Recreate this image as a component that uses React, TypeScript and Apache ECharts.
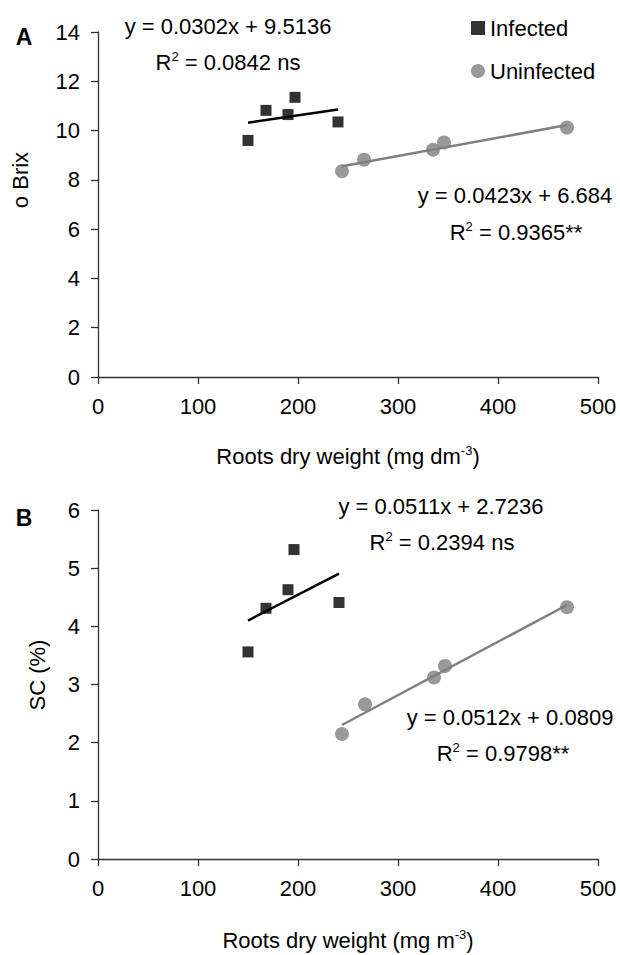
import React, { useEffect, useRef } from "react";
import * as echarts from "echarts";

// ---- Data ----
const infectedRootsA = [150, 168, 190, 197, 240];
const infectedBrix = [9.6, 10.82, 10.65, 11.35, 10.35];
const uninfectedRootsA = [244, 266, 335, 346, 469];
const uninfectedBrix = [8.35, 8.82, 9.22, 9.52, 10.12];

const infectedRootsB = [150, 168, 190, 196, 241];
const infectedSC = [3.56, 4.31, 4.63, 5.32, 4.41];
const uninfectedRootsB = [244, 267, 336, 347, 469];
const uninfectedSC = [2.15, 2.66, 3.12, 3.32, 4.33];

const xTicks = [0, 100, 200, 300, 400, 500];
const yTicksA = [0, 2, 4, 6, 8, 10, 12, 14];
const yTicksB = [0, 1, 2, 3, 4, 5, 6];

const eqTopA = ["y = 0.0302x + 9.5136", "0.0842 ns"];
const eqBotA = ["y = 0.0423x + 6.684", "0.9365**"];
const eqTopB = ["y = 0.0511x + 2.7236", "0.2394 ns"];
const eqBotB = ["y = 0.0512x + 0.0809", "0.9798**"];

const FONT = "'Liberation Sans', Arial, Helvetica, sans-serif";
const FS = 22;

function pairs(xs: number[], ys: number[]) {
  return xs.map((x, i) => [x, ys[i]]);
}

// least-squares trendline spanning the series' x range
function trend(xs: number[], ys: number[]) {
  const n = xs.length;
  const mx = xs.reduce((a, b) => a + b, 0) / n;
  const my = ys.reduce((a, b) => a + b, 0) / n;
  let sxy = 0, sxx = 0;
  for (let i = 0; i < n; i++) {
    sxy += (xs[i] - mx) * (ys[i] - my);
    sxx += (xs[i] - mx) * (xs[i] - mx);
  }
  const b = sxy / sxx;
  const a = my - b * mx;
  const x0 = Math.min(...xs), x1 = Math.max(...xs);
  return [[x0, a + b * x0], [x1, a + b * x1]];
}

const rich = {
  n: { fontSize: FS, fontFamily: FONT, color: "#000", lineHeight: 25 },
  s: { fontSize: 13, fontFamily: FONT, color: "#000", lineHeight: 13, verticalAlign: "top" },
};

function txt(x: number, y: number, text: string, extra: any = {}) {
  return {
    type: "text",
    x, y,
    style: {
      text,
      rich,
      font: `${FS}px ${FONT}`,
      fill: "#000",
      align: "center",
      verticalAlign: "middle",
      ...extra,
    },
  };
}

const App: React.FC = () => {
  const ref = useRef<HTMLDivElement>(null);
  useEffect(() => {
    document.body.style.margin = "0";
    if (!ref.current) return;
    const chart = echarts.init(ref.current, null, { renderer: "svg" });

    const axisLine = { lineStyle: { color: "#333333", width: 1.3 } };
    const axisTick = { length: 7, lineStyle: { color: "#333333", width: 1.3 } };
    const labelStyle = { fontSize: FS, fontFamily: FONT, color: "#000" };

    const xAxisBase = (gridIndex: number) => ({
      type: "value",
      gridIndex,
      min: xTicks[0],
      max: xTicks[xTicks.length - 1],
      interval: xTicks[1] - xTicks[0],
      splitLine: { show: false },
      axisLine,
      axisTick,
      axisLabel: { ...labelStyle, margin: 18 },
    });
    const yAxisBase = (gridIndex: number, ticks: number[]) => ({
      type: "value",
      gridIndex,
      min: ticks[0],
      max: ticks[ticks.length - 1],
      interval: ticks[1] - ticks[0],
      splitLine: { show: false },
      axisLine: { show: true, ...axisLine },
      axisTick: { show: true, ...axisTick },
      axisLabel: { ...labelStyle, margin: 18 },
    });

    const black = "#000000";
    const grey = "#808080";

    const option: any = {
      animation: false,
      backgroundColor: "#fff",
      grid: [
        { left: 98, top: 32, width: 500, height: 345 },
        { left: 98, top: 510, width: 500, height: 349 },
      ],
      xAxis: [xAxisBase(0), xAxisBase(1)],
      yAxis: [yAxisBase(0, yTicksA), yAxisBase(1, yTicksB)],
      legend: {
        orient: "vertical",
        left: 466,
        top: 12,
        itemGap: 21,
        itemWidth: 14,
        itemHeight: 14,
        data: [
          { name: "Infected", icon: "rect" },
          { name: "Uninfected", icon: "circle" },
        ],
        textStyle: { fontSize: FS, fontFamily: FONT, color: "#000" },
        selectedMode: false,
      },
      series: [
        {
          name: "Infected", type: "scatter", xAxisIndex: 0, yAxisIndex: 0,
          symbol: "rect", symbolSize: 11, itemStyle: { color: black },
          data: pairs(infectedRootsA, infectedBrix), z: 3,
        },
        {
          name: "Uninfected", type: "scatter", xAxisIndex: 0, yAxisIndex: 0,
          symbol: "circle", symbolSize: 14, itemStyle: { color: grey },
          data: pairs(uninfectedRootsA, uninfectedBrix), z: 3,
        },
        {
          name: "trendInfA", type: "line", xAxisIndex: 0, yAxisIndex: 0,
          showSymbol: false, lineStyle: { color: black, width: 2.5 },
          data: trend(infectedRootsA, infectedBrix), z: 2,
        },
        {
          name: "trendUninfA", type: "line", xAxisIndex: 0, yAxisIndex: 0,
          showSymbol: false, lineStyle: { color: grey, width: 2.5 },
          data: trend(uninfectedRootsA, uninfectedBrix), z: 2,
        },
        {
          name: "Infected", type: "scatter", xAxisIndex: 1, yAxisIndex: 1,
          symbol: "rect", symbolSize: 11, itemStyle: { color: black },
          data: pairs(infectedRootsB, infectedSC), z: 3,
        },
        {
          name: "Uninfected", type: "scatter", xAxisIndex: 1, yAxisIndex: 1,
          symbol: "circle", symbolSize: 14, itemStyle: { color: grey },
          data: pairs(uninfectedRootsB, uninfectedSC), z: 3,
        },
        {
          name: "trendInfB", type: "line", xAxisIndex: 1, yAxisIndex: 1,
          showSymbol: false, lineStyle: { color: black, width: 2.5 },
          data: trend(infectedRootsB, infectedSC), z: 2,
        },
        {
          name: "trendUninfB", type: "line", xAxisIndex: 1, yAxisIndex: 1,
          showSymbol: false, lineStyle: { color: grey, width: 2.5 },
          data: trend(uninfectedRootsB, uninfectedSC), z: 2,
        },
      ],
      graphic: [
        txt(24, 37, "A", { font: `bold 23px ${FONT}`, rich: undefined }),
        txt(24, 518, "B", { font: `bold 23px ${FONT}`, rich: undefined }),
        { ...txt(20, 180, "o Brix", { rich: undefined }), rotation: Math.PI / 2 },
        { ...txt(37, 675, "SC (%)", { rich: undefined }), rotation: Math.PI / 2 },
        txt(348, 456, "{n|Roots dry weight (mg dm}{s|-3}{n|)}"),
        txt(348, 940, "{n|Roots dry weight (mg m}{s|-3}{n|)}"),
        txt(228, 26, `{n|${eqTopA[0]}}`),
        txt(228, 62, `{n|R}{s|2}{n| = ${eqTopA[1]}}`),
        txt(515, 195, `{n|${eqBotA[0]}}`),
        txt(516, 232, `{n|R}{s|2}{n| = ${eqBotA[1]}}`),
        txt(441, 506, `{n|${eqTopB[0]}}`),
        txt(442, 542, `{n|R}{s|2}{n| = ${eqTopB[1]}}`),
        txt(510, 717, `{n|${eqBotB[0]}}`),
        txt(503, 753, `{n|R}{s|2}{n| = ${eqBotB[1]}}`),
      ],
    };
    chart.setOption(option);
    return () => chart.dispose();
  }, []);
  return <div ref={ref} style={{ width: 620, height: 955 }} />;
};

export default App;
